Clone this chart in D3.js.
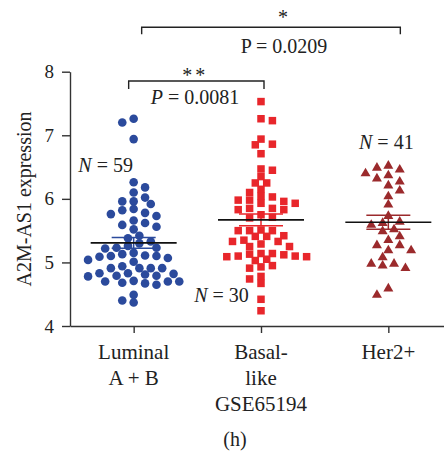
<!DOCTYPE html>
<html>
<head>
<meta charset="utf-8">
<script src="https://cdn.jsdelivr.net/npm/d3@7"></script>
<style>
  body { margin: 0; background: #fff; }
  svg, svg text { font-family: "Liberation Serif", "DejaVu Serif", serif; }
</style>
</head>
<body>
<script>
// Grupos y valores
const groups = ["Luminal", "Basal", "Her2"];
const groupLabels = [["Luminal", "A + B"], ["Basal-", "like", "GSE65194"], ["Her2+"]];
const groupN = [59, 30, 41];
const groupColors = ["#2b4a9c", "#e8262b", "#9b2a2c"];

const luminalValues = [7.26, 7.20, 6.94, 6.26, 6.18, 6.10, 6.02, 5.96, 5.96, 5.84, 5.92, 5.78,
  5.82, 5.73, 5.76, 5.59, 5.66, 5.56, 5.62, 5.52, 5.42, 5.33, 5.38, 5.30, 5.22, 5.26, 5.23,
  5.23, 5.13, 5.15, 5.10, 5.09, 5.04, 5.01, 5.07, 5.10, 5.11, 4.94, 4.91, 4.91, 4.91, 4.91,
  4.82, 4.79, 4.78, 4.83, 4.79, 4.83, 4.81, 4.70, 4.70, 4.67, 4.65, 4.68, 4.70, 4.71, 4.49,
  4.37, 4.40];
const basalValues = [7.53, 7.26, 7.23, 6.94, 6.85, 6.86, 6.71, 6.47, 6.45, 6.35, 6.25, 6.25,
  6.15, 6.10, 6.04, 5.98, 5.96, 5.93, 5.93, 5.98, 6.03, 5.85, 5.83, 5.83, 5.85, 5.71, 5.70,
  5.75, 5.51, 5.50, 5.50, 5.50, 5.41, 5.41, 5.35, 5.42, 5.33, 5.29, 5.33, 5.25, 5.25, 5.14,
  5.12, 5.03, 5.10, 5.10, 5.14, 5.09, 5.09, 5.13, 5.05, 4.93, 4.91, 4.95, 4.78, 4.74, 4.67,
  4.42, 4.24];
const her2Values = [6.48, 6.54, 6.51, 6.39, 6.29, 6.34, 6.42, 6.23, 6.15, 6.06, 5.93, 5.75,
  5.61, 5.64, 5.66, 5.54, 5.51, 5.43, 5.37, 5.29, 5.29, 5.21, 5.21, 5.10, 5.00, 4.97, 4.93,
  5.00, 4.51, 4.61];

const yTicks = [4, 5, 6, 7, 8];

// Comparaciones entre grupos
const pairs = [[0, 1], [0, 2]];
const pairStars = ["**", "*"];
const pairP = ["0.0081", "0.0209"];

const width = 444, height = 453;
const fontSerif = "'Liberation Serif', 'DejaVu Serif', serif";
const svg = d3.select("body").append("svg")
  .attr("width", width)
  .attr("height", height)
  .attr("font-family", fontSerif);

const x = d3.scalePoint().domain(groups).range([70, 452]).padding(0.5);
const y = d3.scaleLinear().domain([4, 8]).range([326, 71.7]);

// Ejes
const yAxis = svg.append("g")
  .attr("transform", "translate(70,0)")
  .call(d3.axisLeft(y).tickValues(yTicks).tickFormat(d3.format("d")).tickSize(8).tickPadding(8).tickSizeOuter(0));
const xAxis = svg.append("g")
  .attr("transform", "translate(0,326)")
  .call(d3.axisBottom(x).tickSize(7).tickSizeOuter(0).tickFormat(""));

svg.selectAll(".domain, .tick line").attr("stroke", "#333").attr("stroke-width", 1.4);
yAxis.attr("font-family", fontSerif);
yAxis.selectAll("text").attr("font-size", 19).attr("fill", "#222");

// Etiquetas de categorías (varias líneas)
groups.forEach((g, i) => {
  const t = svg.append("text")
    .attr("x", x(g))
    .attr("y", 359)
    .attr("text-anchor", "middle")
    .attr("font-size", 21)
    .attr("fill", "#222");
  groupLabels[i].forEach((line, j) => {
    t.append("tspan").attr("x", x(g)).attr("dy", j === 0 ? 0 : 26).text(line);
  });
});

svg.append("text")
  .attr("transform", "translate(31,199) rotate(-90)")
  .attr("text-anchor", "middle")
  .attr("font-size", 20)
  .attr("fill", "#222")
  .text("A2M-AS1 expression");

svg.append("text")
  .attr("x", 235).attr("y", 446)
  .attr("text-anchor", "middle")
  .attr("font-size", 20)
  .attr("fill", "#222")
  .text("(h)");

// Beeswarm: columnas a medio paso, colisión elíptica
function swarm(values, cx, step, ay) {
  const pts = values.map(v => ({ v: v, y: y(v) })).sort((a, b) => a.y - b.y);
  const placed = [];
  const ax = step * 0.97;
  pts.forEach((p, i) => {
    for (let k = 0; k < 20; k++) {
      const opts = k === 0 ? [0] : (i % 2 ? [-k, k] : [k, -k]);
      let found = null;
      for (const o of opts) {
        const px = cx + o * step / 2;
        const hit = placed.some(q => {
          const dx = (q.x - px) / ax, dy = (q.y - p.y) / ay;
          return dx * dx + dy * dy < 1;
        });
        if (!hit) { found = px; break; }
      }
      if (found !== null) { p.x = found; break; }
    }
    placed.push(p);
  });
  return placed;
}

const allValues = [luminalValues, basalValues, her2Values];
const step = 11.4;

// Puntos
const lum = swarm(luminalValues, x("Luminal"), step, 7);
svg.append("g").selectAll("circle")
  .data(lum).enter().append("circle")
  .attr("cx", d => d.x).attr("cy", d => d.y)
  .attr("r", 4.3)
  .attr("fill", groupColors[0]);

const bas = swarm(basalValues, x("Basal"), step, 6.5);
svg.append("g").selectAll("rect")
  .data(bas).enter().append("rect")
  .attr("x", d => d.x - 3.75).attr("y", d => d.y - 3.75)
  .attr("width", 7.5).attr("height", 7.5)
  .attr("fill", groupColors[1]);

const her = swarm(her2Values, x("Her2"), step, 8);
svg.append("g").selectAll("path")
  .data(her).enter().append("path")
  .attr("d", d => `M${d.x},${d.y - 4.4}L${d.x + 5},${d.y + 4.2}L${d.x - 5},${d.y + 4.2}Z`)
  .attr("fill", groupColors[2]);

// Media ± EEM
groups.forEach((g, i) => {
  const vals = allValues[i];
  const m = d3.mean(vals);
  const sem = d3.deviation(vals) / Math.sqrt(vals.length);
  const cx = x(g);
  const eb = svg.append("g").attr("stroke", groupColors[i]).attr("stroke-width", 1.5);
  eb.append("line").attr("x1", cx).attr("x2", cx).attr("y1", y(m + sem)).attr("y2", y(m - sem));
  [m + sem, m - sem].forEach(v => {
    eb.append("line").attr("x1", cx - 22).attr("x2", cx + 22).attr("y1", y(v)).attr("y2", y(v));
  });
  svg.append("line")
    .attr("x1", cx - 43).attr("x2", cx + 43)
    .attr("y1", y(m)).attr("y2", y(m))
    .attr("stroke", "#111").attr("stroke-width", 1.6);
});

// Etiquetas N
const nPos = [[x("Luminal") - 28, 172], [x("Basal") - 39.5, 302], [x("Her2") - 2, 149]];
groupN.forEach((n, i) => {
  const t = svg.append("text")
    .attr("x", nPos[i][0]).attr("y", nPos[i][1])
    .attr("text-anchor", "middle")
    .attr("font-size", 20)
    .attr("fill", "#222");
  t.append("tspan").attr("font-style", "italic").text("N");
  t.append("tspan").text(" = " + n);
});

// Corchetes de significación
const brackets = [
  { x1: x(groups[pairs[0][0]]) - 5, x2: x(groups[pairs[0][1]]) + 3, y: 81, tick: 8,
    starY: 82, pX: 195, pY: 103.5, italic: true },
  { x1: x(groups[pairs[1][0]]) + 8, x2: x(groups[pairs[1][1]]) + 12, y: 27.3, tick: 7,
    starY: 24, pX: 284, pY: 53, italic: false }
];
brackets.forEach((b, i) => {
  svg.append("path")
    .attr("d", `M${b.x1},${b.y + b.tick}V${b.y}H${b.x2}V${b.y + b.tick}`)
    .attr("fill", "none").attr("stroke", "#222").attr("stroke-width", 1.4);
  svg.append("text")
    .attr("x", (b.x1 + b.x2) / 2 + (i === 0 ? -1 : 12)).attr("y", b.starY)
    .attr("text-anchor", "middle")
    .attr("font-size", 20)
    .attr("letter-spacing", i === 0 ? 3 : 0)
    .attr("fill", "#222")
    .text(pairStars[i]);
  const t = svg.append("text")
    .attr("x", b.pX).attr("y", b.pY)
    .attr("text-anchor", "middle")
    .attr("font-size", 20)
    .attr("fill", "#222");
  t.append("tspan").attr("font-style", b.italic ? "italic" : "normal").text("P");
  t.append("tspan").text(" = " + pairP[i]);
});
</script>
</body>
</html>
